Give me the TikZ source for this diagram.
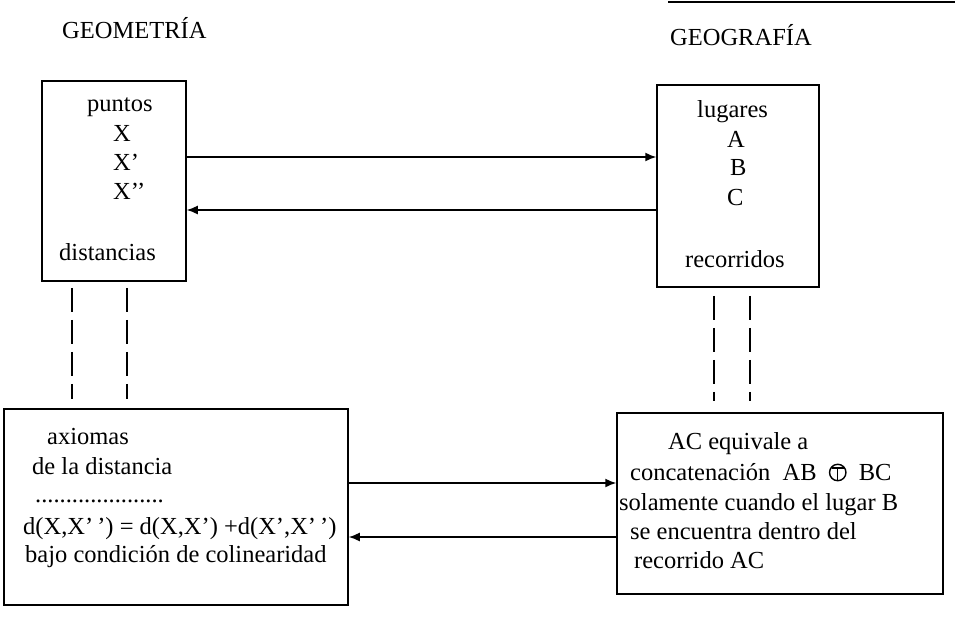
\documentclass[tikz,border=0pt]{standalone}
\usepackage{fontspec}
\setmainfont{Liberation Serif}
\usetikzlibrary{arrows.meta}
\newcommand{\tcirc}{\tikz[baseline=0pt,line width=1.4pt]{\draw(0pt,7.5pt)circle(8.2pt);\draw(-6.2pt,12.2pt)--(6.2pt,12.2pt)(0pt,12.2pt)--(0pt,-0.7pt);}}

\begin{document}
\begin{tikzpicture}[x=1pt,y=-1pt,
    box/.style={draw,line width=1.5pt,inner sep=0pt},
    txt/.style={anchor=base west,inner sep=0pt,font=\fontsize{24.5}{29}\selectfont},
    link/.style={line width=1.5pt,-{Latex[length=11pt,width=9pt]}},
    tie/.style={line width=1.3pt,dash pattern=on 24pt off 8pt}]
    \useasboundingbox(0,0)rectangle(955,640);
    \draw[line width=2.5pt](668,2)--(955,2);
    % titles
    \node[txt](tgeom) at (62,38){GEOMETRÍA};
    \node[txt](tgeog) at (670,45){GEOGRAFÍA};
    % boxes
    \node[box,minimum width=144pt,minimum height=200pt](geom) at (114,181){};
    \node[box,minimum width=162pt,minimum height=202pt](geog) at (738,186){};
    \node[box,minimum width=344pt,minimum height=196pt](axio) at (176,507){};
    \node[box,minimum width=326pt,minimum height=181pt](conc) at (780,503.5){};
    % geometry
    \node[txt](pts) at (87,111){puntos};
    \node[txt](x0) at (113,141){X};
    \node[txt](x1) at (113,170){X’};
    \node[txt](x2) at (113,199){X’’};
    \node[txt](dist) at (59,260){distancias};
    % geography
    \node[txt](lug) at (697,117){lugares};
    \node[txt](pa) at (727,147){A};
    \node[txt](pb) at (730,175){B};
    \node[txt](pc) at (727,205){C};
    \node[txt](rec) at (685,267){recorridos};
    % axioms
    \node[txt](ax1) at (47,444){axiomas};
    \node[txt](ax2) at (32,474){de la distancia};
    \node[txt](ax3) at (35,502){.....................};
    \node[txt](ax4) at (23,534){d(X,X’\,’) = d(X,X’) +d(X’,X’\,’)};
    \node[txt](ax5) at (25,562){bajo condición de colinearidad};
    % concatenation
    \node[txt](cc1) at (668,449){AC equivale a};
    \node[txt](cc2) at (630,480){concatenación\ \ AB\ \ \tcirc\ \ BC};
    \node[txt](cc3) at (619,510){solamente cuando el lugar B};
    \node[txt](cc4) at (630,539){se encuentra dentro del};
    \node[txt](cc5) at (634,568){recorrido AC};
    % arrows
    \coordinate(fwd1) at (0,157);
    \coordinate(bwd1) at (0,210);
    \coordinate(fwd2) at (0,483);
    \coordinate(bwd2) at (0,537);
    \draw[link](geom.east |- fwd1)--(geog.west |- fwd1);
    \draw[link](geog.west |- bwd1)--(geom.east |- bwd1);
    \draw[link](axio.east |- fwd2)--(conc.west |- fwd2);
    \draw[link](conc.west |- bwd2)--(axio.east |- bwd2);
    % dashed ties
    \coordinate(t1) at (72,0);
    \coordinate(t2) at (127,0);
    \coordinate(t3) at (714,0);
    \coordinate(t4) at (750,0);
    \draw[tie,shorten <=6pt,shorten >=9pt](geom.south -| t1)--(axio.north -| t1);
    \draw[tie,shorten <=6pt,shorten >=9pt](geom.south -| t2)--(axio.north -| t2);
    \draw[tie,shorten <=8pt,shorten >=11pt](geog.south -| t3)--(conc.north -| t3);
    \draw[tie,shorten <=8pt,shorten >=11pt](geog.south -| t4)--(conc.north -| t4);
  \end{tikzpicture}
\end{document}
